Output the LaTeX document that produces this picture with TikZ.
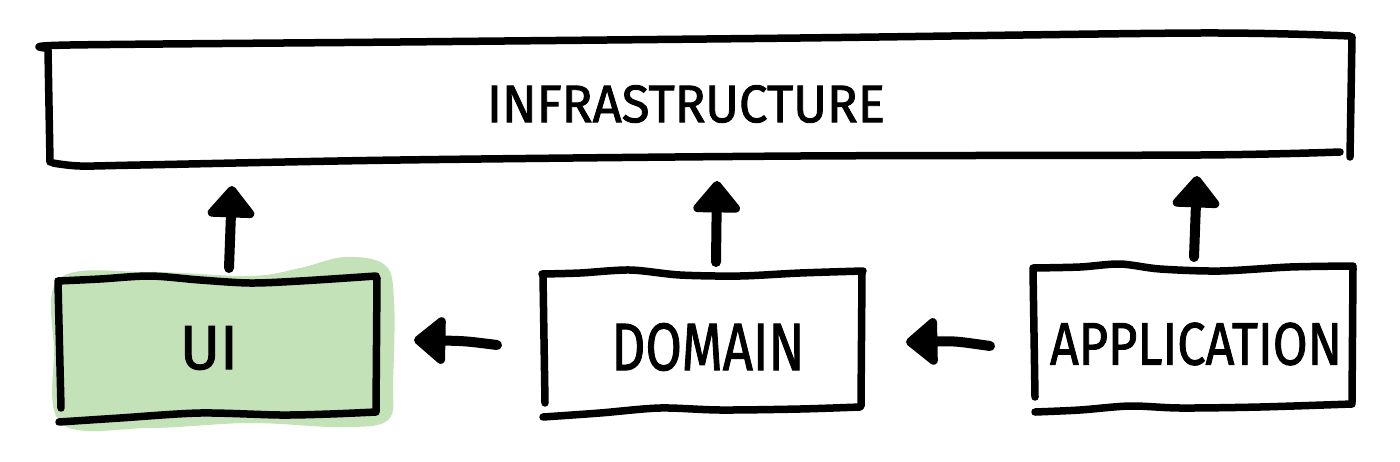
\documentclass[tikz,border=0pt]{standalone}
\usepackage{graphicx}
\usepackage{fontspec}
\setmainfont{Fira Sans}
\newfontfamily\lblfont[FakeBold=1.6]{Fira Sans}
\usetikzlibrary{arrows.meta}
\definecolor{uigreen}{HTML}{C4E2B7}
\tikzset{
  pen/.style={line width=7.5pt, line cap=round, line join=round, black},
  lbl/.style={inner sep=0pt, outer sep=0pt, font=\lblfont},
  deparrow/.style={line width=10pt, line cap=round, -{Triangle[length=34pt,width=54pt,round]}},
}
\newcommand{\hlabel}[3]{\resizebox{#1pt}{#2pt}{#3}}
\begin{document}
\begin{tikzpicture}[x=1pt,y=-1pt]
\useasboundingbox (0,0) rectangle (1400,461);
% green highlight behind UI
\fill[uigreen] plot[smooth cycle, tension=0.6] coordinates {
  (60,278) (150,272) (250,276) (300,268) (345,257) (385,265) (394,300)
  (393,380) (388,420) (340,427) (250,423) (150,428) (62,424) (54,350)};
% labels
\node[lbl] (infra) at (686,104) {\hlabel{398}{37}{INFRASTRUCTURE}};
\node[lbl] (ui) at (209,348) {\hlabel{58}{43}{UI}};
\node[lbl] (domain) at (708,347) {\hlabel{193}{47}{DOMAIN}};
\node[lbl] (app) at (1196,344) {\hlabel{292}{42}{APPLICATION}};
% infrastructure box
\draw[pen] plot[smooth] coordinates {(45,48) (70,45) (400,42) (800,38) (1200,33) (1350,36)};
\draw[pen] (48,50) -- (50,162);
\draw[pen] plot[smooth] coordinates {(53,163) (80,166) (140,165) (400,160) (800,156) (1200,155) (1340,152)};
\draw[pen] (1352,37) -- (1350,157);
% UI box
\draw[pen] plot[smooth] coordinates {(58,281) (100,279) (150,276) (200,280) (250,283) (300,281) (376,276)};
\draw[pen] (58,283) -- (61,408);
\draw[pen] (377,278) -- (376,411);
\draw[pen] plot[smooth] coordinates {(59,422) (120,418) (200,413) (280,415) (330,414) (376,412)};
% DOMAIN box
\draw[pen] plot[smooth] coordinates {(542,274) (580,273) (630,270) (680,275) (740,276) (800,273) (863,271)};
\draw[pen] (543,276) -- (545,403);
\draw[pen] (862,273) -- (861,406);
\draw[pen] plot[smooth] coordinates {(543,417) (600,413) (660,408) (720,410) (800,409) (860,407)};
% APPLICATION box
\draw[pen] plot[smooth] coordinates {(1033,268) (1080,267) (1120,264) (1160,269) (1220,271) (1290,267) (1353,266)};
\draw[pen] (1033,270) -- (1035,397);
\draw[pen] (1353,268) -- (1352,402);
\draw[pen] plot[smooth] coordinates {(1035,412) (1080,410) (1130,406) (1180,408) (1260,407) (1352,404)};
% connector end points
\coordinate (uiUp) at (229,268);
\coordinate (infUi) at (232,186);
\coordinate (domUp) at (716,262);
\coordinate (infDom) at (717,181);
\coordinate (appUp) at (1194,257);
\coordinate (infApp) at (1197,176);
\coordinate (domLeft) at (497,345);
\coordinate (uiRight) at (414,340);
\coordinate (appLeft) at (990,346);
\coordinate (domRight) at (906,342);
% connectors
\draw[deparrow] (uiUp) -- (infUi);
\draw[deparrow] (domUp) -- (infDom);
\draw[deparrow] (appUp) -- (infApp);
\draw[deparrow] (domLeft) .. controls (465,341) .. (uiRight);
\draw[deparrow] (appLeft) .. controls (955,341) .. (domRight);
\end{tikzpicture}
\end{document}
